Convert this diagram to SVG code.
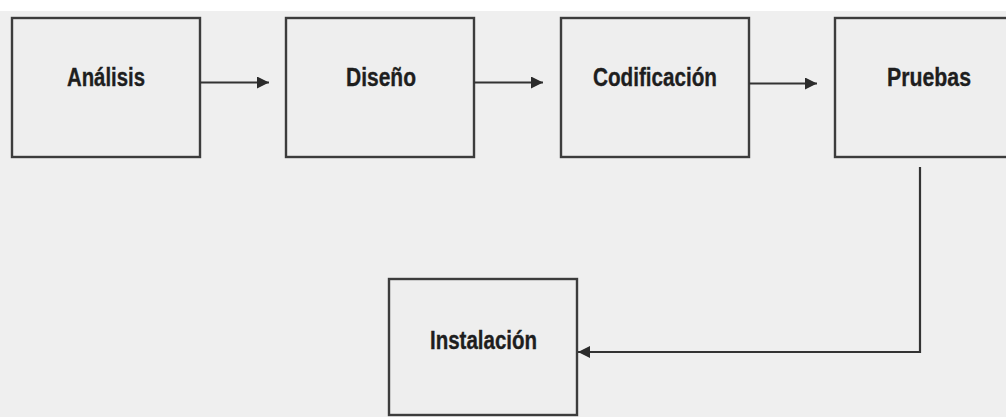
<svg xmlns="http://www.w3.org/2000/svg" width="1006" height="417" viewBox="0 0 1006 417">
  <defs>
    <marker id="arrow" viewBox="0 0 10 10" refX="10" refY="5" markerWidth="12" markerHeight="12" markerUnits="userSpaceOnUse" orient="auto">
      <path d="M0,0 L10,5 L0,10 Z" fill="#2b2b2b"/>
    </marker>
    <style>
      .box { fill: #eeeeee; stroke: #3c3c3c; stroke-width: 2.4; }
      .label { font-family: "Liberation Sans", Arial, sans-serif; font-weight: bold; font-size: 25.5px; fill: #1e1e1e; stroke: #1e1e1e; stroke-width: 0.35; text-anchor: middle; }
      .edge { fill: none; stroke: #333333; stroke-width: 2.2; }
    </style>
  </defs>

  <!-- canvas -->
  <rect x="0" y="0" width="1006" height="417" fill="#ffffff"/>
  <rect x="0" y="11" width="1006" height="406" fill="#efefef"/>

  <g id="analisis">
    <rect class="box" x="12" y="18" width="188" height="139"/>
    <text class="label" x="106" y="86" textLength="78" lengthAdjust="spacingAndGlyphs">Análisis</text>
  </g>

  <g id="diseno">
    <rect class="box" x="286" y="18" width="188" height="139"/>
    <text class="label" x="381" y="86" textLength="70" lengthAdjust="spacingAndGlyphs">Diseño</text>
  </g>

  <g id="codificacion">
    <rect class="box" x="561" y="18" width="188" height="139"/>
    <text class="label" x="655" y="86" textLength="124" lengthAdjust="spacingAndGlyphs">Codificación</text>
  </g>

  <g id="pruebas">
    <rect class="box" x="835" y="18" width="190" height="139"/>
    <text class="label" x="929" y="86" textLength="84" lengthAdjust="spacingAndGlyphs">Pruebas</text>
  </g>

  <g id="instalacion">
    <rect class="box" x="389" y="279" width="188" height="136"/>
    <text class="label" x="483.5" y="349" textLength="107" lengthAdjust="spacingAndGlyphs">Instalación</text>
  </g>

  <g id="connectors">
    <path class="edge" d="M200,82.5 H269" marker-end="url(#arrow)"/>
    <path class="edge" d="M474,82.5 H543" marker-end="url(#arrow)"/>
    <path class="edge" d="M749,83.5 H817" marker-end="url(#arrow)"/>
    <path class="edge" d="M920,167 V352 H578" marker-end="url(#arrow)"/>
  </g>
</svg>
